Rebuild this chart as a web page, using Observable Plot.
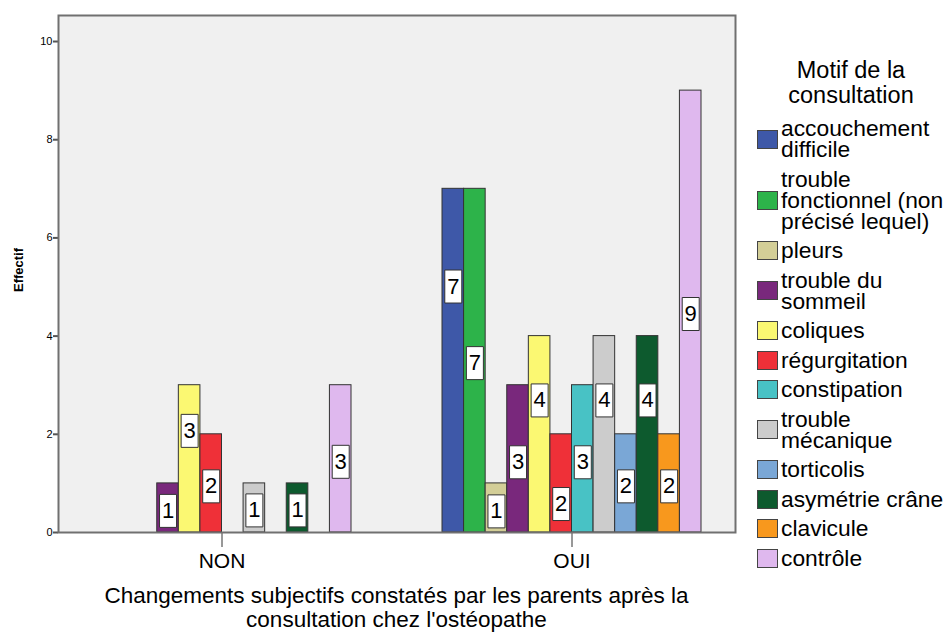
<!DOCTYPE html>
<html><head><meta charset="utf-8">
<script src="https://cdn.jsdelivr.net/npm/d3@7"></script>
<script src="https://cdn.jsdelivr.net/npm/@observablehq/plot@0.6"></script>
<style>
body{margin:0;background:#fff;font-family:"Liberation Sans",Arial,sans-serif;color:#000;}
#wrap{position:relative;width:947px;height:633px;overflow:hidden;}
#chart{position:absolute;left:0;top:0;}
#ylab{position:absolute;left:18px;top:270px;transform:translate(-50%,-50%) rotate(-90deg);font-weight:bold;font-size:13px;white-space:nowrap;}
#xlab{position:absolute;left:58px;top:584px;width:677px;text-align:center;font-size:22.5px;line-height:24px;}
#legtitle{position:absolute;left:755px;top:58px;width:192px;text-align:center;font-size:23.5px;line-height:25px;}
#legend{position:absolute;left:757px;top:118px;width:190px;}
.item{display:flex;align-items:center;margin-bottom:8.5px;}
.sw{width:21px;height:19px;box-sizing:border-box;border:1px solid #444;flex:none;}
.lab{margin-left:3px;font-size:22.8px;line-height:21px;width:166px;}
</style></head><body>
<div id="wrap">
  <div id="chart"></div>
  <div id="ylab">Effectif</div>
  <div id="xlab">Changements subjectifs constatés par les parents après la<br>consultation chez l'ostéopathe</div>
  <div id="legtitle">Motif de la<br>consultation</div>
  <div id="legend"></div>
</div>
<script>
const groups = ["NON", "OUI"];
const motifs = [
  "accouchement difficile",
  "trouble fonctionnel (non précisé lequel)",
  "pleurs",
  "trouble du sommeil",
  "coliques",
  "régurgitation",
  "constipation",
  "trouble mécanique",
  "torticolis",
  "asymétrie crâne",
  "clavicule",
  "contrôle"
];
const colors = ["#3e58a8", "#2db34a", "#d3ce97", "#79287c", "#fbf872", "#ef3038",
                "#48c2c5", "#cccccc", "#7aa7d6", "#0d5a2e", "#f8981d", "#dfb8ee"];
const valuesNON = [0, 0, 0, 1, 3, 2, 0, 1, 0, 1, 0, 3];
const valuesOUI = [7, 7, 1, 3, 4, 2, 3, 4, 2, 4, 2, 9];
// where SPSS placed each value label (in count units)
const labelAtNON = [null, null, null, 0.44, 2.07, 0.94, null, 0.45, null, 0.45, null, 1.44];
const labelAtOUI = [5.01, 3.45, 0.43, 1.43, 2.69, 0.58, 1.43, 2.69, 0.94, 2.69, 0.94, 4.45];
const yTicks = [0, 2, 4, 6, 8, 10];
const yMax = 10.53;

const rows = [];
motifs.forEach((m, i) => {
  if (valuesNON[i] > 0) rows.push({group: "NON", motif: m, value: valuesNON[i], labelAt: labelAtNON[i]});
  if (valuesOUI[i] > 0) rows.push({group: "OUI", motif: m, value: valuesOUI[i], labelAt: labelAtOUI[i]});
});

const boxSymbol = {draw(ctx, size) { ctx.rect(-8.5, -16.5, 17, 33); }};
const outer = 34; // gray area beyond the outer groups

const chart = Plot.plot({
  width: 947, height: 575,
  marginLeft: 92, marginRight: 246, marginTop: 15, marginBottom: 43,
  style: {fontFamily: "'Liberation Sans', Arial, sans-serif", background: "transparent", color: "#000"},
  fx: {domain: groups, paddingInner: 0.26, paddingOuter: 0, round: false},
  x: {domain: motifs, padding: 0, round: false, axis: null},
  y: {domain: [0, yMax], axis: null},
  color: {domain: motifs, range: colors},
  marks: [
    Plot.frame({facet: "super", fill: "#f0f0f0", stroke: null, insetLeft: -outer, insetRight: -outer}),
    Plot.barY(rows, {fx: "group", x: "motif", y: "value", fill: "motif", stroke: "#333", strokeWidth: 1}),
    Plot.dot(rows, {fx: "group", x: "motif", y: "labelAt", symbol: boxSymbol, r: 10, fill: "white", stroke: "#333", strokeWidth: 1}),
    Plot.text(rows, {fx: "group", x: "motif", y: "labelAt", text: "value", fontSize: 22, fill: "#000"}),
    Plot.axisY({ticks: yTicks, tickSize: 5, tickPadding: 1, fontSize: 11, label: null, stroke: "#555", strokeWidth: 2, dx: -outer}),
    Plot.axisFx({anchor: "bottom", tickSize: 15, tickPadding: 6, fontSize: 21, label: null, stroke: "#333"}),
    Plot.frame({facet: "super", stroke: "#707070", strokeWidth: 2, insetLeft: -outer, insetRight: -outer})
  ]
});
document.getElementById("chart").appendChild(chart);

const leg = d3.select("#legend");
motifs.forEach((m, i) => {
  const it = leg.append("div").attr("class", "item");
  it.append("div").attr("class", "sw").style("background", colors[i]);
  it.append("div").attr("class", "lab").text(m);
});
</script>
</body></html>
